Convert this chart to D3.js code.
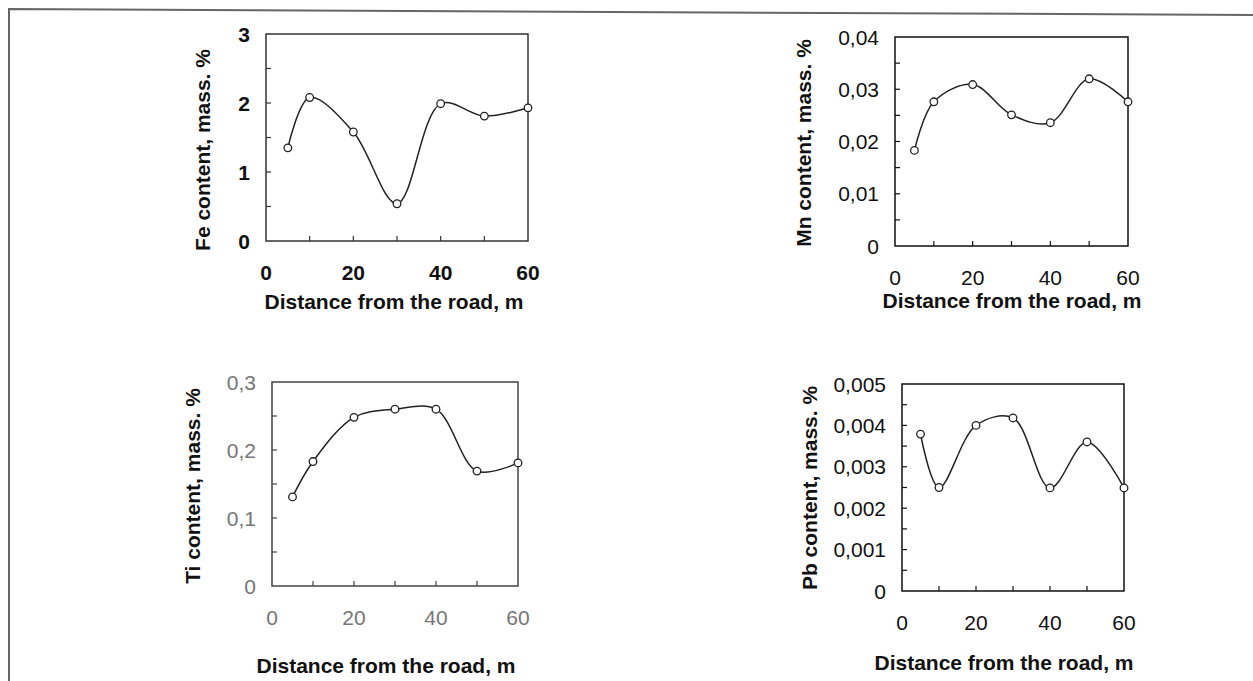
<!DOCTYPE html>
<html>
<head>
<meta charset="utf-8">
<script src="https://cdn.jsdelivr.net/npm/d3@7"></script>
<style>
  body { margin: 0; background: #fff; }
  svg { display: block; font-family: "Liberation Sans", Arial, sans-serif; }
</style>
</head>
<body>
<div id="chart"></div>
<script>
// distances (m) and measured contents (mass. %)
const distances = [5, 10, 20, 30, 40, 50, 60];
const feValues = [1.35, 2.08, 1.58, 0.54, 1.99, 1.81, 1.93];
const mnValues = [0.0183, 0.0276, 0.0309, 0.0251, 0.0236, 0.0320, 0.0276];
const tiValues = [0.131, 0.183, 0.248, 0.260, 0.260, 0.169, 0.181];
const pbValues = [0.00379, 0.00250, 0.00400, 0.00418, 0.00249, 0.00360, 0.00249];

const xTicks = [0, 20, 40, 60];
const xMinor = [10, 20, 30, 40, 50];
const feTicks = [0, 1, 2, 3];
const mnTicks = [0, 0.01, 0.02, 0.03, 0.04];
const tiTicks = [0, 0.1, 0.2, 0.3];
const pbTicks = [0, 0.001, 0.002, 0.003, 0.004, 0.005];

const xTitle = "Distance from the road, m";

const locale = d3.formatLocale({ decimal: ",", thousands: " ", grouping: [3], currency: ["", ""] });
const fmt = v => v === 0 ? "0" : locale.format("~g")(v);

const width = 1253, height = 681;

const svg = d3.select("#chart")
    .append("svg")
    .attr("width", width)
    .attr("height", height);

// scanned page border (left and top edges)
svg.append("path")
    .attr("d", "M9,681 L9,9 L1253,15")
    .attr("fill", "none")
    .attr("stroke", "#666")
    .attr("stroke-width", 2);

const panels = [
    { values: feValues, ticks: feTicks, max: 3, minorStep: 0.5, title: "Fe content, mass. %",
      box: [266, 528, 34, 241], xt: [394, 301], yt: [202, 150], labelColor: "#111", labelWeight: "bold", frame: "#333" },
    { values: mnValues, ticks: mnTicks, max: 0.04, minorStep: 0.005, title: "Mn content, mass. %",
      box: [895, 1128, 37, 246], xt: [1012, 300], yt: [803, 143], labelColor: "#111", labelWeight: "normal", frame: "#111" },
    { values: tiValues, ticks: tiTicks, max: 0.3, minorStep: 0.05, title: "Ti content, mass. %",
      box: [272, 518, 382, 586], xt: [386, 665], yt: [192, 486], labelColor: "#777", labelWeight: "normal", frame: "#444" },
    { values: pbValues, ticks: pbTicks, max: 0.005, minorStep: 0.0005, title: "Pb content, mass. %",
      box: [902, 1124, 384, 591], xt: [1004, 662], yt: [809, 488], labelColor: "#111", labelWeight: "normal", frame: "#111" }
];

panels.forEach(p => {
    const [left, right, top, bottom] = p.box;
    const x = d3.scaleLinear().domain([0, 60]).range([left, right]);
    const y = d3.scaleLinear().domain([0, p.max]).range([bottom, top]);

    const g = svg.append("g");

    // frame
    g.append("rect")
        .attr("x", left).attr("y", top)
        .attr("width", right - left).attr("height", bottom - top)
        .attr("fill", "none")
        .attr("stroke", p.frame)
        .attr("stroke-width", 1.5);

    // inward minor ticks on y
    const yMinor = d3.range(1, Math.round(p.max / p.minorStep)).map(i => i * p.minorStep);
    g.selectAll("line.ytick").data(yMinor).enter()
        .append("line")
        .attr("x1", left).attr("x2", left + 5)
        .attr("y1", d => y(d)).attr("y2", d => y(d))
        .attr("stroke", p.frame).attr("stroke-width", 1.2);

    // inward ticks on x
    g.selectAll("line.xtick").data(xMinor).enter()
        .append("line")
        .attr("x1", d => x(d)).attr("x2", d => x(d))
        .attr("y1", bottom).attr("y2", bottom - 5)
        .attr("stroke", p.frame).attr("stroke-width", 1.2);

    // y tick labels
    g.selectAll("text.ylab").data(p.ticks).enter()
        .append("text")
        .attr("x", left - 16)
        .attr("y", d => y(d))
        .attr("text-anchor", "end")
        .attr("dominant-baseline", "central")
        .attr("fill", p.labelColor)
        .style("font-weight", p.labelWeight)
        .style("font-size", "21px")
        .text(fmt);

    // x tick labels
    g.selectAll("text.xlab").data(xTicks).enter()
        .append("text")
        .attr("x", d => x(d))
        .attr("y", bottom + 31)
        .attr("text-anchor", "middle")
        .attr("dominant-baseline", "central")
        .attr("fill", p.labelColor)
        .style("font-weight", p.labelWeight)
        .style("font-size", "21px")
        .text(d => d);

    // axis titles
    g.append("text")
        .attr("x", p.xt[0]).attr("y", p.xt[1])
        .attr("text-anchor", "middle")
        .attr("dominant-baseline", "central")
        .attr("fill", "#111")
        .style("font-weight", "bold")
        .style("font-size", "21px")
        .text(xTitle);

    g.append("text")
        .attr("transform", `translate(${p.yt[0]},${p.yt[1]}) rotate(-90)`)
        .attr("text-anchor", "middle")
        .attr("dominant-baseline", "central")
        .attr("fill", "#111")
        .style("font-weight", "bold")
        .style("font-size", "21px")
        .text(p.title);

    // smoothed line
    const pts = distances.map((d, i) => [d, p.values[i]]);
    const line = d3.line()
        .x(d => x(d[0]))
        .y(d => y(d[1]))
        .curve(d3.curveCatmullRom.alpha(0.5));

    g.append("path")
        .datum(pts)
        .attr("d", line)
        .attr("fill", "none")
        .attr("stroke", "#222")
        .attr("stroke-width", 1.5);

    g.selectAll("circle").data(pts).enter()
        .append("circle")
        .attr("cx", d => x(d[0]))
        .attr("cy", d => y(d[1]))
        .attr("r", 3.8)
        .attr("fill", "#fff")
        .attr("stroke", "#222")
        .attr("stroke-width", 1.3);
});
</script>
</body>
</html>
